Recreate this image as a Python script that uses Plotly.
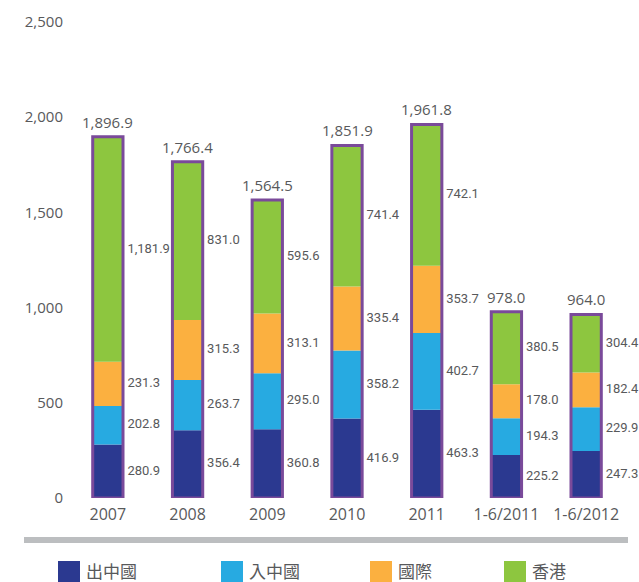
import plotly.graph_objects as go

categories = ["2007", "2008", "2009", "2010", "2011", "1-6/2011", "1-6/2012"]
series_names = ["出中國", "入中國", "國際", "香港"]
outbound = [280.9, 356.4, 360.8, 416.9, 463.3, 225.2, 247.3]
inbound = [202.8, 263.7, 295.0, 358.2, 402.7, 194.3, 229.9]
international = [231.3, 315.3, 313.1, 335.4, 353.7, 178.0, 182.4]
hongkong = [1181.9, 831.0, 595.6, 741.4, 742.1, 380.5, 304.4]
totals = [1896.9, 1766.4, 1564.5, 1851.9, 1961.8, 978.0, 964.0]
y_ticks = [0, 500, 1000, 1500, 2000, 2500]

colors = ["#2b3990", "#27aae1", "#fbb040", "#8dc63f"]
outline_color = "#7a4a9a"
text_color = "#58595b"
num_font = "Roboto, sans-serif"
tick_font = "Open Sans, sans-serif"
cjk_font = "Noto Sans CJK TC, sans-serif"

xs = list(range(len(categories)))
bw = 0.38
series = [outbound, inbound, international, hongkong]

W, H = 639, 582
ML, MT, PW, PH = 68, 22, 558, 476


def px_x(px):
    return (px - ML) / PW


def px_y(py):
    return 1 - (py - MT) / PH


fig = go.Figure()
base = [0.0] * len(xs)
for name, vals, col in zip(series_names, series, colors):
    fig.add_trace(go.Bar(
        x=xs, y=vals, base=list(base), width=bw, name=name,
        marker=dict(color=col, line=dict(width=0)), showlegend=False,
        hoverinfo="skip"))
    mids = [b + v / 2 for b, v in zip(base, vals)]
    fig.add_trace(go.Scatter(
        x=[x + bw / 2 + 0.055 for x in xs], y=mids, mode="text",
        text=[f"{v:,.1f}" for v in vals], textposition="middle right",
        textfont=dict(family=num_font, size=13, color=text_color),
        showlegend=False, hoverinfo="skip", cliponaxis=False))
    base = [b + v for b, v in zip(base, vals)]

# outline of the whole stack
fig.add_trace(go.Bar(
    x=xs, y=totals, base=[0] * len(xs), width=bw,
    marker=dict(color="rgba(0,0,0,0)", line=dict(width=3, color=outline_color)),
    showlegend=False, hoverinfo="skip"))

annotations = []
for x, t in zip(xs, totals):
    annotations.append(dict(x=x, y=t, xref="x", yref="y", text=f"{t:,.1f}",
                            showarrow=False, yanchor="middle", yshift=15,
                            font=dict(family=tick_font, size=15, color=text_color)))

shapes = [dict(type="line", xref="paper", yref="paper", x0=px_x(24), x1=px_x(628),
               y0=px_y(540), y1=px_y(540), line=dict(color="#bcbec0", width=6))]
leg_x = [58, 221, 370, 504]
for i, (name, col) in enumerate(zip(series_names, colors)):
    shapes.append(dict(type="rect", xref="paper", yref="paper",
                       x0=px_x(leg_x[i]), x1=px_x(leg_x[i] + 22),
                       y0=px_y(583), y1=px_y(561), fillcolor=col, line=dict(width=0)))
    annotations.append(dict(xref="paper", yref="paper", x=px_x(leg_x[i] + 26),
                            y=px_y(570), text=name, showarrow=False, xanchor="left",
                            yanchor="middle",
                            font=dict(family=cjk_font, size=17, color=text_color)))

fig.update_layout(
    barmode="overlay",
    width=W, height=H,
    margin=dict(l=ML, r=W - ML - PW, t=MT, b=H - MT - PH),
    paper_bgcolor="white", plot_bgcolor="white",
    shapes=shapes, annotations=annotations,
    xaxis=dict(range=[-0.5, len(xs) - 0.5], tickmode="array", tickvals=xs,
               ticktext=categories, showgrid=False, zeroline=False, showline=False,
               automargin=False,
               ticks="outside", ticklen=2, tickcolor="rgba(0,0,0,0)",
               tickfont=dict(family=tick_font, size=16, color=text_color)),
    yaxis=dict(range=[0, 2500], tickmode="array", tickvals=y_ticks,
               ticktext=[f"{v:,}" for v in y_ticks], showgrid=False,
               zeroline=False, showline=False, automargin=False,
               ticks="outside", ticklen=1, tickcolor="rgba(0,0,0,0)",
               tickfont=dict(family=tick_font, size=15, color=text_color)),
    showlegend=False,
)

fig.write_html("out.html",
               config={"displayModeBar": False},
               post_script="document.body.style.margin='0';"
                           "document.body.style.overflow='hidden';")
